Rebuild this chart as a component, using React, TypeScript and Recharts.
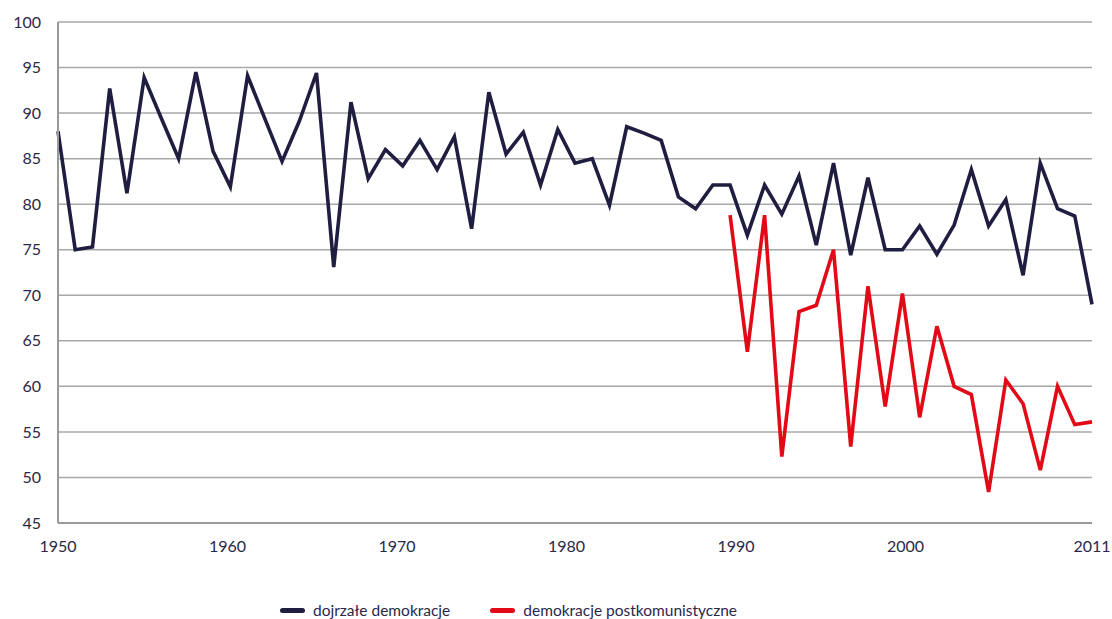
import { LineChart, Line, XAxis, YAxis, CartesianGrid, Legend } from "recharts";

// 61 evenly spaced observations, 1950 → 2011
const matureValues = [
  88.0, 75.0, 75.3, 92.7, 81.2, 93.9, 89.4, 85.0, 94.5, 85.8,
  81.9, 94.1, 89.4, 84.7, 89.1, 94.4, 73.1, 91.2, 82.8, 86.0,
  84.2, 87.0, 83.8, 87.4, 77.3, 92.3, 85.5, 87.9, 82.1, 88.2,
  84.5, 85.0, 79.9, 88.5, 87.8, 87.0, 80.8, 79.5, 82.1, 82.1,
  76.6, 82.1, 78.9, 83.1, 75.5, 84.5, 74.4, 82.9, 75.0, 75.0,
  77.6, 74.5, 77.7, 83.8, 77.6, 80.5, 72.2, 84.5, 79.5, 78.7,
  69.0,
];

const postCommunistValues: (number | null)[] = [
  ...Array(39).fill(null),
  78.8, 63.8, 78.8, 52.3, 68.2, 68.9, 75.0, 53.4, 71.0, 57.8,
  70.2, 56.6, 66.6, 60.0, 59.1, 48.4, 60.7, 58.1, 50.8, 60.0,
  55.8, 56.1,
];

const yearTicks = [1950, 1960, 1970, 1980, 1990, 2000, 2011];
const valueTicks = [45, 50, 55, 60, 65, 70, 75, 80, 85, 90, 95, 100];

const seriesNames = {
  mature: "dojrzałe demokracje",
  post: "demokracje postkomunistyczne",
};

const NAVY = "#1f1d40";
const RED = "#e20a17";
const TEXT = "#2a2848";
const TICK_FONT = "Lato, sans-serif";
const LEGEND_FONT = "Lato, sans-serif";

const data = matureValues.map((v, i) => ({
  i,
  mature: v,
  post: postCommunistValues[i],
}));

// only gives the year axis its own domain, nothing is drawn
const yearRows = yearTicks.map((year) => ({ year, blank: null }));

function LegendContent() {
  const items = [
    { name: seriesNames.mature, color: NAVY },
    { name: seriesNames.post, color: RED },
  ];
  return (
    <div
      style={{
        height: 46,
        display: "flex",
        justifyContent: "flex-start",
        alignItems: "flex-end",
        gap: 40,
        paddingLeft: 280,
        paddingBottom: 0,
        boxSizing: "border-box",
      }}
    >
      {items.map((it) => (
        <div key={it.name} style={{ display: "flex", alignItems: "center", gap: 8 }}>
          <span
            style={{
              display: "inline-block",
              width: 25,
              height: 5,
              borderRadius: 3,
              background: it.color,
            }}
          />
          <span style={{ fontFamily: LEGEND_FONT, fontSize: 15.5, color: TEXT }}>{it.name}</span>
        </div>
      ))}
    </div>
  );
}

export default function App() {
  return (
    <div style={{ position: "absolute", left: 0, top: 0, background: "#fff" }}>
      <LineChart
        width={1112}
        height={619}
        data={data}
        margin={{ top: 22, right: 20, bottom: 0, left: 0 }}
      >
        <CartesianGrid vertical={false} stroke="#a8a8a8" strokeWidth={1.5} xAxisId="idx" />
        <XAxis xAxisId="idx" type="number" dataKey="i" domain={[0, 60]} height={0} hide />
        <XAxis
          xAxisId="year"
          type="number"
          dataKey="year"
          domain={[1950, 2011]}
          ticks={yearTicks}
          allowDataOverflow
          height={50}
          tickLine={false}
          tickSize={0}
          tickMargin={18}
          axisLine={{ stroke: "#9a9a9a", strokeWidth: 2 }}
          tick={{ fill: TEXT, fontSize: 16, fontFamily: TICK_FONT }}
          interval={0}
        />
        <YAxis
          domain={[45, 100]}
          ticks={valueTicks}
          width={58}
          interval={0}
          tickLine={false}
          tickSize={0}
          tickMargin={17}
          axisLine={{ stroke: "#9a9a9a", strokeWidth: 2 }}
          tick={{ fill: TEXT, fontSize: 16, fontFamily: TICK_FONT }}
        />
        <Legend verticalAlign="bottom" height={46} content={<LegendContent />} />
        <Line
          xAxisId="year"
          data={yearRows}
          dataKey="blank"
          stroke="none"
          dot={false}
          activeDot={false}
          legendType="none"
          isAnimationActive={false}
        />
        <Line
          xAxisId="idx"
          type="linear"
          dataKey="mature"
          name={seriesNames.mature}
          stroke={NAVY}
          strokeWidth={3.6}
          dot={false}
          isAnimationActive={false}
        />
        <Line
          xAxisId="idx"
          type="linear"
          dataKey="post"
          name={seriesNames.post}
          stroke={RED}
          strokeWidth={3.6}
          dot={false}
          connectNulls={false}
          isAnimationActive={false}
        />
      </LineChart>
    </div>
  );
}
